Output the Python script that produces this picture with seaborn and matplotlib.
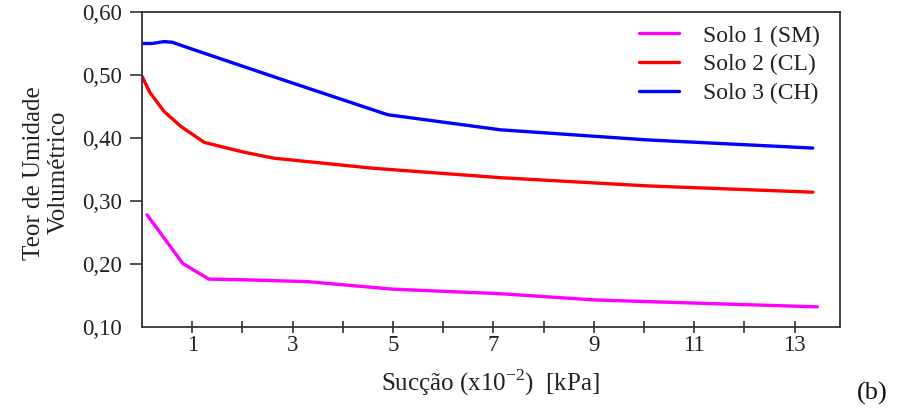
import pandas as pd
import matplotlib
matplotlib.use('Agg')
import matplotlib.pyplot as plt
import seaborn as sns

# suction (x10^-2 kPa) and volumetric water content
suc_solo1 = [0.1, 0.45, 0.81, 1.33, 2.0, 3.3, 5.0, 7.1, 9.0, 11.0, 13.45]
teor_solo1 = [0.278, 0.240, 0.201, 0.176, 0.175, 0.172, 0.160, 0.153, 0.143, 0.138, 0.132]

suc_solo2 = [0.0, 0.15, 0.44, 0.78, 1.24, 2.0, 2.62, 4.6, 7.14, 10.06, 13.36]
teor_solo2 = [0.498, 0.473, 0.442, 0.418, 0.393, 0.378, 0.368, 0.352, 0.337, 0.324, 0.314]

suc_solo3 = [0.0, 0.2, 0.44, 0.6, 1.0, 1.63, 2.82, 4.89, 7.14, 10.06, 13.36]
teor_solo3 = [0.550, 0.550, 0.553, 0.552, 0.541, 0.524, 0.492, 0.437, 0.413, 0.397, 0.384]

series_names = ['Solo 1 (SM)', 'Solo 2 (CL)', 'Solo 3 (CH)']
series_colors = ['#ff00ff', '#ff0000', '#0000ff']

y_ticks = [0.10, 0.20, 0.30, 0.40, 0.50, 0.60]
x_label_ticks = [1, 3, 5, 7, 9, 11, 13]

df = pd.concat([
    pd.DataFrame({'suc': suc_solo1, 'teor': teor_solo1, 'solo': series_names[0]}),
    pd.DataFrame({'suc': suc_solo2, 'teor': teor_solo2, 'solo': series_names[1]}),
    pd.DataFrame({'suc': suc_solo3, 'teor': teor_solo3, 'solo': series_names[2]}),
], ignore_index=True)

sns.set_style('ticks')
plt.rcParams['font.family'] = ['Liberation Serif', 'DejaVu Serif']
plt.rcParams['mathtext.fontset'] = 'custom'
plt.rcParams['mathtext.rm'] = 'Liberation Serif'

fig = plt.figure(figsize=(9.07, 4.18), dpi=100)
ax = fig.add_axes([0.1566, 0.2177, 0.7694, 0.7536])

sns.lineplot(data=df, x='suc', y='teor', hue='solo', palette=series_colors,
             sort=False, estimator=None, linewidth=2.4, ax=ax)

ax.set_xlim(0, 13.9)
ax.set_ylim(0.10, 0.60)
ax.set_xticks(range(1, 14))
ax.set_xticklabels([str(t) if t in x_label_ticks else '' for t in range(1, 14)])
ax.set_yticks(y_ticks)
ax.set_yticklabels([f'{v:.2f}'.replace('.', ',') for v in y_ticks])
ax.tick_params(axis='both', labelsize=16.5, width=1.2, color='#333333', labelcolor='#222222')
ax.tick_params(axis='x', direction='inout', length=8.6, pad=1.5)
ax.tick_params(axis='y', direction='out', length=8.6, pad=6)
ax.yaxis.get_major_ticks()[0].tick1line.set_visible(False)
for s in ax.spines.values():
    s.set_linewidth(1.3)
    s.set_color('#333333')

ax.set_xlabel('Sucção (x10$^{-2}$)  [kPa]', fontsize=18, color='#222222', labelpad=8)
ax.set_ylabel('Teor de Umidade\nVolumétrico', fontsize=18, color='#222222',
              linespacing=1.15)
ax.yaxis.set_label_coords(-0.104, 0.49)

leg = ax.legend(loc='upper right', bbox_to_anchor=(0.9915, 1.003), frameon=False,
                fontsize=17, handlelength=1.7, handletextpad=1.0,
                labelspacing=0.3, borderaxespad=0.2)
for t in leg.get_texts():
    t.set_color('#222222')

fig.text(0.945, 0.045, '(b)', fontsize=19, color='#111111')

plt.savefig('out.png', dpi=100)
plt.close()
